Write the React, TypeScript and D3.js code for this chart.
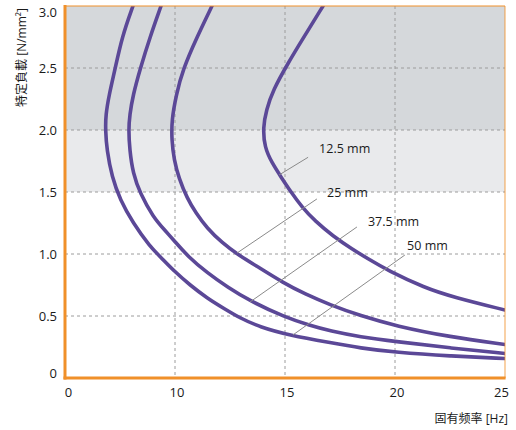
import React from 'react';
import * as d3 from 'd3';

const W = 516;
const H = 430;
const PLOT = { left: 65, right: 505, top: 6, bottom: 378 };

// Frequency axis: 0–10 Hz is compressed to the width of one 5 Hz step
const xBreaks = [0, 10, 25];
const xTicks = [0, 10, 15, 20, 25];
const xGrid = [10, 15, 20];
const yTicks = [0, 0.5, 1, 1.5, 2, 2.5, 3];
const yTickLabels = ['0', '0.5', '1.0', '1.5', '2.0', '2.5', '3.0'];
const yGrid = [0.5, 1, 1.5, 2, 2.5];
const darkBand = [2, 3];
const lightBand = [1.5, 2];

const deflections = ['12.5 mm', '25 mm', '37.5 mm', '50 mm'];

// [natural frequency Hz, specific load N/mm²]
const curve12_5: [number, number][] = [
  [16.73, 3.0], [15.86, 2.75], [15.14, 2.54], [14.45, 2.32], [14.15, 2.16],
  [14.0, 2.02], [14.07, 1.86], [14.41, 1.734], [14.82, 1.621], [15.27, 1.5],
  [15.77, 1.379], [16.36, 1.266], [17.18, 1.145], [18.05, 1.04], [18.86, 0.952],
  [19.64, 0.871], [21.36, 0.726], [22.64, 0.653], [25.0, 0.548],
];
const curve25: [number, number][] = [
  [11.68, 3.0], [11.0, 2.75], [10.36, 2.49], [10.05, 2.28], [9.7, 2.08],
  [9.7, 1.92], [9.91, 1.76], [10.18, 1.61], [10.55, 1.45], [10.95, 1.33],
  [11.45, 1.21], [12.14, 1.09], [12.82, 1.0], [13.73, 0.9], [14.91, 0.769],
  [15.91, 0.677], [17.05, 0.59], [18.41, 0.503], [20.05, 0.419], [22.5, 0.331],
  [25.0, 0.27],
];
const curve37_5: [number, number][] = [
  [8.73, 3.0], [7.73, 2.75], [6.82, 2.49], [6.18, 2.28], [5.88, 2.12],
  [5.78, 2.0], [5.88, 1.84], [6.18, 1.65], [6.82, 1.49], [8.0, 1.3],
  [9.09, 1.19], [10.0, 1.1], [10.59, 0.98], [11.45, 0.85], [12.41, 0.73],
  [13.41, 0.621], [15.0, 0.49], [16.14, 0.423], [17.05, 0.379], [18.41, 0.331],
  [20.05, 0.294], [22.5, 0.242], [25.0, 0.198],
];
const curve50: [number, number][] = [
  [6.18, 3.0], [5.18, 2.75], [4.55, 2.49], [4.0, 2.28], [3.7, 2.12],
  [3.68, 2.0], [3.8, 1.84], [4.27, 1.62], [5.0, 1.44], [6.18, 1.25],
  [7.73, 1.06], [8.64, 0.98], [10.0, 0.855], [10.68, 0.75], [11.45, 0.645],
  [12.27, 0.556], [12.95, 0.484], [13.86, 0.41], [15.23, 0.343], [17.05, 0.285],
  [18.41, 0.242], [20.05, 0.206], [22.5, 0.177], [25.0, 0.157],
];
const curves = [curve12_5, curve25, curve37_5, curve50];

// Callout leaders and label anchors, in data units
const leaderFrom: [number, number][] = [[14.73, 1.637], [12.82, 1.008], [13.41, 0.613], [15.36, 0.347]];
const leaderTo: [number, number][] = [[16.05, 1.78], [16.45, 1.444], [18.27, 1.218], [20.45, 0.992]];
const labelAt: [number, number][] = [[16.55, 1.815], [16.91, 1.46], [18.77, 1.226], [20.55, 1.032]];

const FONT = "'Open Sans', 'Noto Sans CJK JP', sans-serif";
const ORANGE = '#f0902a';
const PURPLE = '#5b4897';

export default function App() {
  const x = d3.scaleLinear().domain(xBreaks).range([PLOT.left, 175, PLOT.right]);
  const y = d3.scaleLinear().domain([0, 3]).range([PLOT.bottom, PLOT.top]);
  const line = d3
    .line<[number, number]>()
    .x((d) => x(d[0]))
    .y((d) => y(d[1]))
    .curve(d3.curveBasis);

  return (
    <svg
      width={W}
      height={H}
      style={{ position: 'absolute', left: 0, top: 0, background: '#fff' }}
      fontFamily={FONT}
    >
      <defs>
        <clipPath id="plot-area">
          <rect x={PLOT.left} y={PLOT.top} width={PLOT.right - PLOT.left} height={PLOT.bottom - PLOT.top} />
        </clipPath>
      </defs>

      {/* load bands */}
      <rect x={PLOT.left} y={y(darkBand[1])} width={PLOT.right - PLOT.left} height={y(darkBand[0]) - y(darkBand[1])} fill="#d5d8db" />
      <rect x={PLOT.left} y={y(lightBand[1])} width={PLOT.right - PLOT.left} height={y(lightBand[0]) - y(lightBand[1])} fill="#e9eaec" />

      {/* grid */}
      {yGrid.map((v) => (
        <line key={'gy' + v} x1={PLOT.left} x2={PLOT.right} y1={y(v)} y2={y(v)} stroke="#9c9c9c" strokeWidth={1} strokeDasharray="3,3" />
      ))}
      {xGrid.map((v) => (
        <line key={'gx' + v} x1={x(v)} x2={x(v)} y1={PLOT.top} y2={PLOT.bottom} stroke="#9c9c9c" strokeWidth={1} strokeDasharray="3,3" />
      ))}

      {/* curves */}
      <g clipPath="url(#plot-area)">
        {curves.map((c, i) => (
          <path key={'c' + i} d={line(c) || ''} fill="none" stroke={PURPLE} strokeWidth={3.6} strokeLinecap="round" strokeLinejoin="round" />
        ))}
      </g>

      {/* callouts */}
      {deflections.map((label, i) => (
        <g key={'a' + i}>
          <line
            x1={x(leaderFrom[i][0])}
            y1={y(leaderFrom[i][1])}
            x2={x(leaderTo[i][0])}
            y2={y(leaderTo[i][1])}
            stroke="#8a8a8a"
            strokeWidth={1}
          />
          <text x={x(labelAt[i][0])} y={y(labelAt[i][1])} fontSize={12.5} fill="#1a1a1a">
            {label}
          </text>
        </g>
      ))}

      {/* frame */}
      <line x1={PLOT.left} x2={PLOT.right} y1={PLOT.top} y2={PLOT.top} stroke={ORANGE} strokeWidth={1.2} />
      <line x1={PLOT.right} x2={PLOT.right} y1={PLOT.top} y2={PLOT.bottom} stroke={ORANGE} strokeOpacity={0.7} strokeWidth={1.2} />
      <line x1={PLOT.left} x2={PLOT.left} y1={PLOT.top - 1} y2={PLOT.bottom + 1.5} stroke={ORANGE} strokeWidth={3} />
      <line x1={PLOT.left - 1.5} x2={PLOT.right + 0.6} y1={PLOT.bottom} y2={PLOT.bottom} stroke={ORANGE} strokeWidth={3} />

      {/* y tick labels */}
      {yTicks.map((v, i) => (
        <text
          key={'yt' + v}
          x={57}
          y={Math.min(Math.max(y(v), 12), 373)}
          dy="0.35em"
          textAnchor="end"
          fontSize={13}
          fill="#1a1a1a"
        >
          {yTickLabels[i]}
        </text>
      ))}

      {/* x tick labels */}
      {xTicks.map((v) => (
        <text
          key={'xt' + v}
          x={Math.min(Math.max(x(v) + 2, 68.5), 501.5)}
          y={397}
          textAnchor="middle"
          fontSize={13}
          fill="#1a1a1a"
        >
          {v}
        </text>
      ))}

      {/* axis titles */}
      <text x={508} y={423} textAnchor="end" fontSize={12} fill="#1a1a1a">
        固有频率 [Hz]
      </text>
      <text transform="translate(26,57.5) rotate(-90)" textAnchor="middle" fontSize={12} fill="#1a1a1a">
        特定負載 [N/mm²]
      </text>
    </svg>
  );
}
